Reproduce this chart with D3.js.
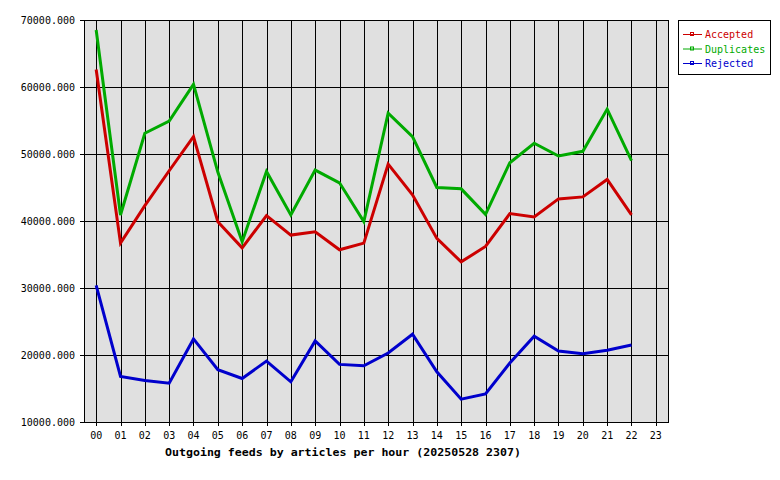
<!DOCTYPE html>
<html><head><meta charset="utf-8">
<script src="https://cdn.jsdelivr.net/npm/d3@7"></script>
<style>body{margin:0;background:#fff;} svg{display:block;}</style>
</head><body>
<script>
const hours = ["00","01","02","03","04","05","06","07","08","09","10","11","12","13","14","15","16","17","18","19","20","21","22","23"];
const accepted = [62600,36700,42300,47500,52600,39900,36000,40800,37900,38400,35700,36700,48500,43900,37400,33900,36200,41100,40600,43300,43600,46200,40900];
const duplicates = [68500,40900,53100,54900,60400,47300,36900,47400,40900,47600,45700,39900,56100,52600,45000,44800,41000,48700,51600,49700,50400,56700,49000];
const rejected = [30400,16800,16200,15800,22400,17800,16500,19100,16000,22100,18600,18400,20300,23100,17500,13400,14200,18800,22800,20600,20200,20700,21500];
const yTicks = [10000,20000,30000,40000,50000,60000,70000];
const seriesNames = ["Accepted","Duplicates","Rejected"];
const seriesColors = ["#cc0000","#00aa00","#0000cc"];
const title = "Outgoing feeds by articles per hour (20250528 2307)";

const W=780,H=480;
const m={l:84,r:668,t:20,b:422};
const svg=d3.select("body").append("svg").attr("width",W).attr("height",H);
const font="'DejaVu Sans Mono', monospace";

const x=d3.scaleBand().domain(hours).range([m.l,m.r]);
const y=d3.scaleLinear().domain([10000,70000]).range([m.b,m.t]);
const cx=h=>x(h)+x.bandwidth()/2;

svg.append("rect").attr("x",m.l).attr("y",m.t).attr("width",m.r-m.l).attr("height",m.b-m.t).attr("fill","#e0e0e0");

// grid
svg.append("g").selectAll("line").data(yTicks).join("line")
 .attr("x1",m.l-4).attr("x2",m.r).attr("y1",d=>Math.round(y(d))+0.5).attr("y2",d=>Math.round(y(d))+0.5)
 .attr("stroke","#000").attr("stroke-width",1);
svg.append("g").selectAll("line").data(hours).join("line")
 .attr("x1",d=>Math.round(cx(d))+0.5).attr("x2",d=>Math.round(cx(d))+0.5).attr("y1",m.t).attr("y2",m.b+4)
 .attr("stroke","#000").attr("stroke-width",1);
svg.append("rect").attr("x",m.l+0.5).attr("y",m.t+0.5).attr("width",m.r-m.l).attr("height",m.b-m.t)
 .attr("fill","none").attr("stroke","#000");

// labels
svg.append("g").selectAll("text").data(yTicks).join("text")
 .attr("x",75).attr("y",d=>y(d)+4).attr("text-anchor","end")
 .attr("font-family",font).attr("font-size",10).text(d=>d3.format(".3f")(d));
svg.append("g").selectAll("text").data(hours).join("text")
 .attr("x",d=>cx(d)).attr("y",439).attr("text-anchor","middle")
 .attr("font-family",font).attr("font-size",10).text(d=>d);
svg.append("text").attr("x",165).attr("y",456).attr("font-family",font).attr("font-weight","bold")
 .attr("font-size",11).attr("textLength",356).attr("lengthAdjust","spacingAndGlyphs").text(title);

// lines
const data=[accepted,duplicates,rejected];
const line=d3.line().x((d,i)=>cx(hours[i])).y(d=>y(d));
data.forEach((s,k)=>{
  svg.append("path").datum(s).attr("d",line).attr("fill","none")
   .attr("stroke",seriesColors[k]).attr("stroke-width",3).attr("stroke-linejoin","miter");
});

// legend
svg.append("rect").attr("x",678.5).attr("y",20.5).attr("width",92).attr("height",54).attr("fill","#fff").attr("stroke","#000");
seriesNames.forEach((n,k)=>{
  const ly=34+k*14.5;
  const g=svg.append("g");
  g.append("line").attr("x1",683).attr("x2",702).attr("y1",ly+0.5).attr("y2",ly+0.5).attr("stroke",seriesColors[k]);
  g.append("rect").attr("x",690.5).attr("y",ly-1.5).attr("width",3).attr("height",3).attr("fill","none").attr("stroke",seriesColors[k]);
  g.append("text").attr("x",705).attr("y",ly+4).attr("font-family",font).attr("font-size",10)
   .attr("fill",seriesColors[k]).text(n);
});
</script>
</body></html>
